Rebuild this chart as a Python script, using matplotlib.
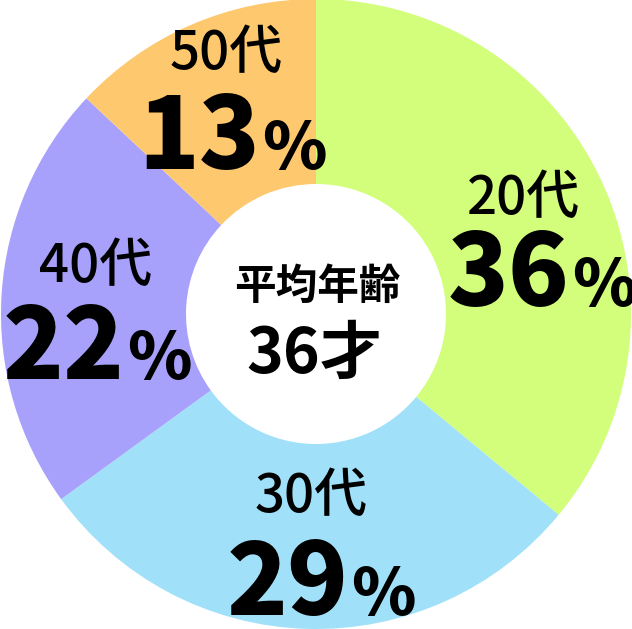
import matplotlib
matplotlib.use("Agg")
import matplotlib.pyplot as plt

plt.rcParams['font.family'] = ['Noto Sans CJK JP', 'DejaVu Sans']

# data
ages = ['20代', '30代', '40代', '50代']
shares = [36, 29, 22, 13]
colors = ['#d2fe7b', '#a0e1f9', '#a8a1fc', '#fec86e']
center_title = '平均年齢'
center_value = '36才'

# label layout in pixels (split x between number and %, baseline of age, baseline of number)
label_pos = [(570, 214, 306), (349, 512, 615), (125, 282, 379), (260, 69, 169)]
age_x = [523, 311, 95, 226]

W, H = 632, 629
CX, CY, R = 316, 314, 315


def px(x, y):
    # image pixel -> data coords (radius 1 = R px)
    return (x - CX) / R, (CY - y) / R


fig = plt.figure(figsize=(W / 100, H / 100), dpi=100)
ax = fig.add_axes([0, 0, 1, 1])
ax.pie(shares, colors=colors, startangle=90, counterclock=False, radius=1,
       wedgeprops=dict(width=1 - 130 / R, linewidth=0))
ax.set_aspect('auto')
ax.set_xlim(px(0, 0)[0], px(W, 0)[0])
ax.set_ylim(px(0, H)[1], px(0, 0)[1])
ax.axis('off')

for age, val, (sx, by_age, by_num), ax_x in zip(ages, shares, label_pos, age_x):
    x, y = px(sx, by_num)
    ax.text(x, y, str(val), ha='right', va='baseline', fontsize=72,
            fontweight='heavy', color='black')
    ax.text(x + 2 / R, y, '%', ha='left', va='baseline', fontsize=47,
            fontweight='heavy', color='black')
    xa, ya = px(ax_x, by_age)
    ax.text(xa, ya, age, ha='center', va='baseline', fontsize=38,
            fontweight='medium', color='black')

x, y = px(317, 287)
ax.text(x, y, center_title, ha='center', va='center', fontsize=30,
        fontweight='bold', color='black')
x, y = px(314, 373)
ax.text(x, y, center_value, ha='center', va='baseline', fontsize=45,
        fontweight='semibold', color='black')

fig.savefig('out.png', dpi=100)
